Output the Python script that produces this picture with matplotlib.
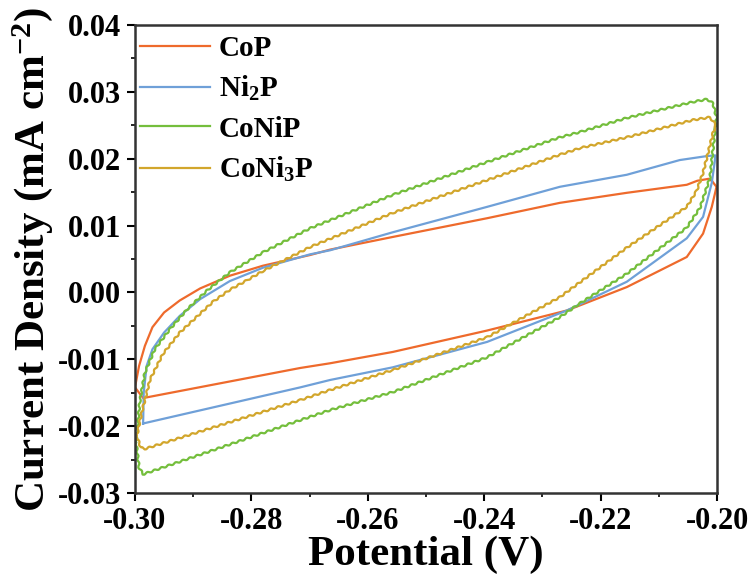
import numpy as np
import matplotlib
matplotlib.use("Agg")
import matplotlib.pyplot as plt
from matplotlib.lines import Line2D
from matplotlib.ticker import MultipleLocator, FormatStrFormatter

plt.rcParams['font.family'] = 'Liberation Serif'
plt.rcParams['font.weight'] = 'bold'
plt.rcParams['mathtext.fontset'] = 'custom'
plt.rcParams['mathtext.rm'] = 'Liberation Serif:bold'
plt.rcParams['mathtext.it'] = 'Liberation Serif:bold'
plt.rcParams['mathtext.bf'] = 'Liberation Serif:bold'

# CoP: lower branch (left -> right), upper branch (right -> left)
cop_lo_x = [-0.3000, -0.2986, -0.2716, -0.2665, -0.2557, -0.2395, -0.2258, -0.2155, -0.2052, -0.2024, -0.2009, -0.2003, -0.2001]
cop_lo_y = [-0.0142, -0.0158, -0.0113, -0.0106, -0.0089, -0.0057, -0.0027, 0.0008, 0.0053, 0.0088, 0.0128, 0.0150, 0.0158]
cop_up_x = [-0.2008, -0.2014, -0.2034, -0.2052, -0.2155, -0.2270, -0.2395, -0.2557, -0.2665, -0.2699, -0.2780, -0.2837, -0.2888, -0.2923, -0.2950, -0.2970, -0.2983, -0.2993, -0.3000]
cop_up_y = [0.0166, 0.0170, 0.0167, 0.0161, 0.0149, 0.0134, 0.0111, 0.0083, 0.0064, 0.0056, 0.0040, 0.0025, 0.0006, -0.0012, -0.0030, -0.0052, -0.0080, -0.0110, -0.0142]

# Ni2P
ni2p_lo_x = [-0.2986, -0.2716, -0.2665, -0.2557, -0.2395, -0.2258, -0.2155, -0.2052, -0.2024, -0.2009, -0.2004, -0.2003]
ni2p_lo_y = [-0.0196, -0.0142, -0.0131, -0.0112, -0.0074, -0.0027, 0.0016, 0.0081, 0.0113, 0.0164, 0.0195, 0.0205]
ni2p_up_x = [-0.2017, -0.2064, -0.2155, -0.2270, -0.2395, -0.2557, -0.2665, -0.2699, -0.2780, -0.2837, -0.2888, -0.2923, -0.2950, -0.2970, -0.2980, -0.2985, -0.2986]
ni2p_up_y = [0.0204, 0.0198, 0.0176, 0.0158, 0.0128, 0.0090, 0.0063, 0.0057, 0.0037, 0.0017, -0.0010, -0.0035, -0.0060, -0.0085, -0.0110, -0.0150, -0.0196]

# CoNiP
conip_lo_x = [-0.2998, -0.2993, -0.2986, -0.2716, -0.2665, -0.2557, -0.2395, -0.2270, -0.2235, -0.2155, -0.2052, -0.2029, -0.2012, -0.2003, -0.2001]
conip_lo_y = [-0.0225, -0.0262, -0.0272, -0.0191, -0.0176, -0.0149, -0.0097, -0.0037, -0.0016, 0.0028, 0.0097, 0.0127, 0.0172, 0.0246, 0.0262]
conip_up_x = [-0.2007, -0.2017, -0.2041, -0.2155, -0.2235, -0.2270, -0.2395, -0.2557, -0.2699, -0.2780, -0.2837, -0.2876, -0.2910, -0.2940, -0.2966, -0.2983, -0.2992, -0.2998]
conip_up_y = [0.0283, 0.0289, 0.0285, 0.0261, 0.0240, 0.0232, 0.0195, 0.0146, 0.0096, 0.0060, 0.0030, 0.0003, -0.0025, -0.0055, -0.0085, -0.0120, -0.0165, -0.0225]

# CoNi3P
coni3p_lo_x = [-0.2997, -0.2990, -0.2983, -0.2716, -0.2665, -0.2557, -0.2395, -0.2270, -0.2155, -0.2052, -0.2035, -0.2024, -0.2007, -0.2002]
coni3p_lo_y = [-0.0215, -0.0232, -0.0234, -0.0161, -0.0146, -0.0116, -0.0067, -0.0007, 0.0067, 0.0128, 0.0152, 0.0179, 0.0238, 0.0250]
coni3p_up_x = [-0.2012, -0.2041, -0.2155, -0.2235, -0.2270, -0.2395, -0.2557, -0.2699, -0.2780, -0.2808, -0.2837, -0.2866, -0.2923, -0.2952, -0.2974, -0.2988, -0.2997]
coni3p_up_y = [0.0262, 0.0258, 0.0232, 0.0216, 0.0206, 0.0168, 0.0119, 0.0068, 0.0032, 0.0018, 0.0004, -0.0014, -0.0060, -0.0092, -0.0130, -0.0178, -0.0215]

labels = ['CoP', 'Ni$_2$P', 'CoNiP', 'CoNi$_3$P']
colors = ['#EE6A2C', '#6FA0D8', '#74BE3C', '#D2A62C']
wiggly = [False, False, True, True]

series = [
    (cop_lo_x + cop_up_x, cop_lo_y + cop_up_y),
    (ni2p_lo_x + ni2p_up_x, ni2p_lo_y + ni2p_up_y),
    (conip_lo_x + conip_up_x, conip_lo_y + conip_up_y),
    (coni3p_lo_x + coni3p_up_x, coni3p_lo_y + coni3p_up_y),
]

fig = plt.figure(figsize=(7.52, 5.76), dpi=100)
ax = fig.add_axes([0.1795, 0.1441, 0.774, 0.8125])

handles = []
for (xs, ys), lab, c, w in zip(series, labels, colors, wiggly):
    line, = ax.plot(xs, ys, color=c, lw=1.6)
    if w:
        # the measured curves carry a small regular ripple
        line.set_sketch_params(scale=0.8, length=7.5, randomness=1)
    handles.append(Line2D([], [], color=c, lw=1.6, label=lab))

ax.set_xlim(-0.30, -0.20)
ax.set_ylim(-0.03, 0.04)
ax.xaxis.set_major_locator(MultipleLocator(0.02))
ax.xaxis.set_minor_locator(MultipleLocator(0.01))
ax.yaxis.set_major_locator(MultipleLocator(0.01))
ax.yaxis.set_minor_locator(MultipleLocator(0.005))
ax.xaxis.set_major_formatter(FormatStrFormatter('%.2f'))
ax.yaxis.set_major_formatter(FormatStrFormatter('%.2f'))
ax.tick_params(which='major', direction='out', length=6, width=1.5, labelsize=22, pad=4)
ax.tick_params(which='minor', direction='out', length=3, width=1.2)
for s in ax.spines.values():
    s.set_linewidth(1.8)
    s.set_color('#333333')

ax.set_xlabel('Potential (V)', fontsize=31, fontweight='bold', labelpad=0)
ax.set_ylabel(r'Current Density (mA cm$^{-2}$)', fontsize=31, fontweight='bold', labelpad=2)

ax.legend(handles=handles, loc='upper left', bbox_to_anchor=(-0.036, 1.035), frameon=False,
          fontsize=21, handlelength=2.4, handletextpad=0.3, labelspacing=0.42)

fig.savefig('out.png', dpi=100)
